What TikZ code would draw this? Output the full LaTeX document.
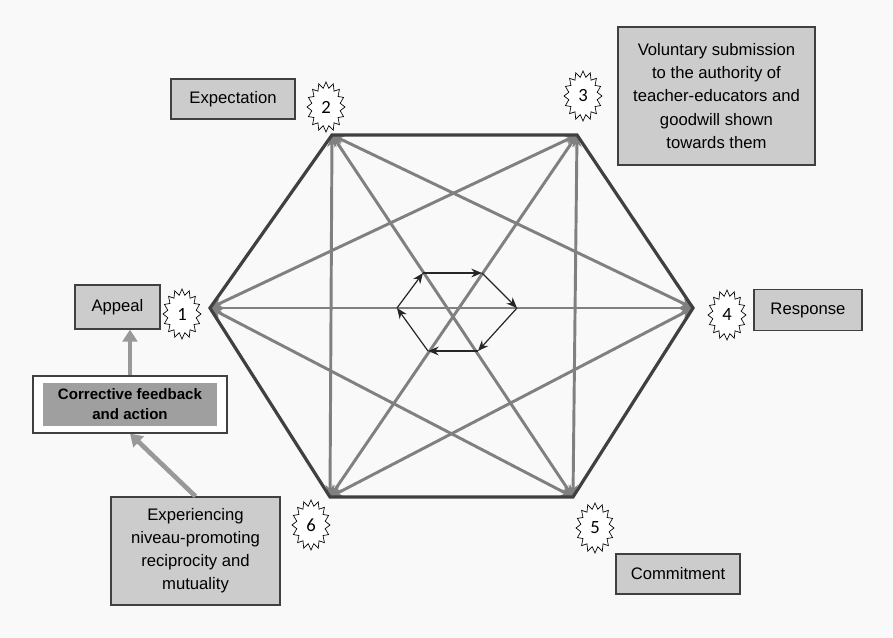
\documentclass[tikz,border=0pt]{standalone}
\usepackage{fontspec}
\setmainfont{Liberation Sans}
\newfontfamily\numfont{Carlito}
\usetikzlibrary{arrows.meta}
\newdimen\px \px=0.75pt
\newcommand\burstat[3]{% name, position, number
  \coordinate (#1) at (#2);
  \draw[shift={(#1)},fill=white,line width=0.5pt] plot[samples=33,domain=0:360,variable=\t]
    ({19*(0.88+0.12*cos(16*\t))*cos(\t)},{25*(0.88+0.12*cos(16*\t))*sin(\t)}) -- cycle;
  \node[burstnum] at (#1) {#3};
}
\tikzset{
  box/.style={draw=black!75,line width=0.9pt,fill=gray!40,align=center,inner sep=0pt,
    font=\fontsize{12.5}{17.3}\selectfont},
  burstnum/.style={inner sep=0pt,font=\numfont\fontsize{14}{15}\selectfont},
  rim/.style={draw=black!75,line width=2.4pt,line join=miter},
  diag/.style={draw=gray,line width=2.2pt,{Stealth[length=9pt,width=7pt]}-{Stealth[length=9pt,width=7pt]}},
  cyc/.style={draw=black!85,line width=0.9pt,-{Stealth[length=8pt,width=6.5pt]}},
  fb/.style={draw=gray!80,line width=3.5pt,-{Triangle[length=9pt,width=11pt]}}
}
\begin{document}
\begin{tikzpicture}[x=0.75pt,y=-0.75pt]
  \fill[gray!5] (0,0) rectangle (893,638);
  \useasboundingbox (0,0) rectangle (893,638);
  % corners of the hexagon
  \coordinate (v1) at (210,308);
  \coordinate (v2) at (332,135);
  \coordinate (v3) at (577,135);
  \coordinate (v4) at (693,308);
  \coordinate (v5) at (573,497);
  \coordinate (v6) at (330,497);
  \foreach \a/\b in {1/3,1/4,1/5,2/4,2/5,2/6,3/5,3/6,4/6}
    \draw[diag] (v\a) -- (v\b);
  \draw[rim] (v1) -- (v2) -- (v3) -- (v4) -- (v5) -- (v6) -- cycle;
  % small cycle in the middle
  \coordinate (c1) at (397,308);
  \coordinate (c2) at (423,273);
  \coordinate (c3) at (482,273);
  \coordinate (c4) at (517,308);
  \coordinate (c5) at (478,351);
  \coordinate (c6) at (428,351);
  \foreach \a/\b in {1/2,2/3,3/4,4/5,5/6,6/1}
    \draw[cyc] (c\a) -- (c\b);
  % numbers
  \burstat{b1}{182,314}{1}
  \burstat{b2}{326,107}{2}
  \burstat{b3}{583,96}{3}
  \burstat{b4}{727,315}{4}
  \burstat{b5}{595,528}{5}
  \burstat{b6}{311,525}{6}
  % labels
  \node[box,minimum width=124\px,minimum height=40\px] (expect) at (233,99) {Expectation};
  \node[box,minimum width=197\px,minimum height=138\px] (submit) at (716.5,96)
    {Voluntary submission\\to the authority of\\teacher-educators and\\goodwill shown\\towards them};
  \node[box,minimum width=85\px,minimum height=44\px] (appeal) at (117.5,307) {Appeal};
  \node[box,minimum width=108\px,minimum height=41\px] (resp) at (808,310) {Response};
  \node[box,minimum width=124\px,minimum height=40\px] (commit) at (678,574) {Commitment};
  \node[box,minimum width=169\px,minimum height=108\px] (exper) at (195.5,551)
    {Experiencing\\niveau-promoting\\reciprocity and\\mutuality};
  \node[box,fill=white,minimum width=194\px,minimum height=57\px] (corr) at (130,404.5) {};
  \node[box,draw=none,fill=gray!75,minimum width=174\px,minimum height=43\px,
    font=\bfseries\fontsize{11.3}{15}\selectfont] (corrtxt) at (corr) {Corrective feedback\\and action};
  \draw[fb] (exper.north) -- (corr.south);
  \draw[fb] (corr.north) -- (corr.north |- appeal.south);
\end{tikzpicture}
\end{document}
